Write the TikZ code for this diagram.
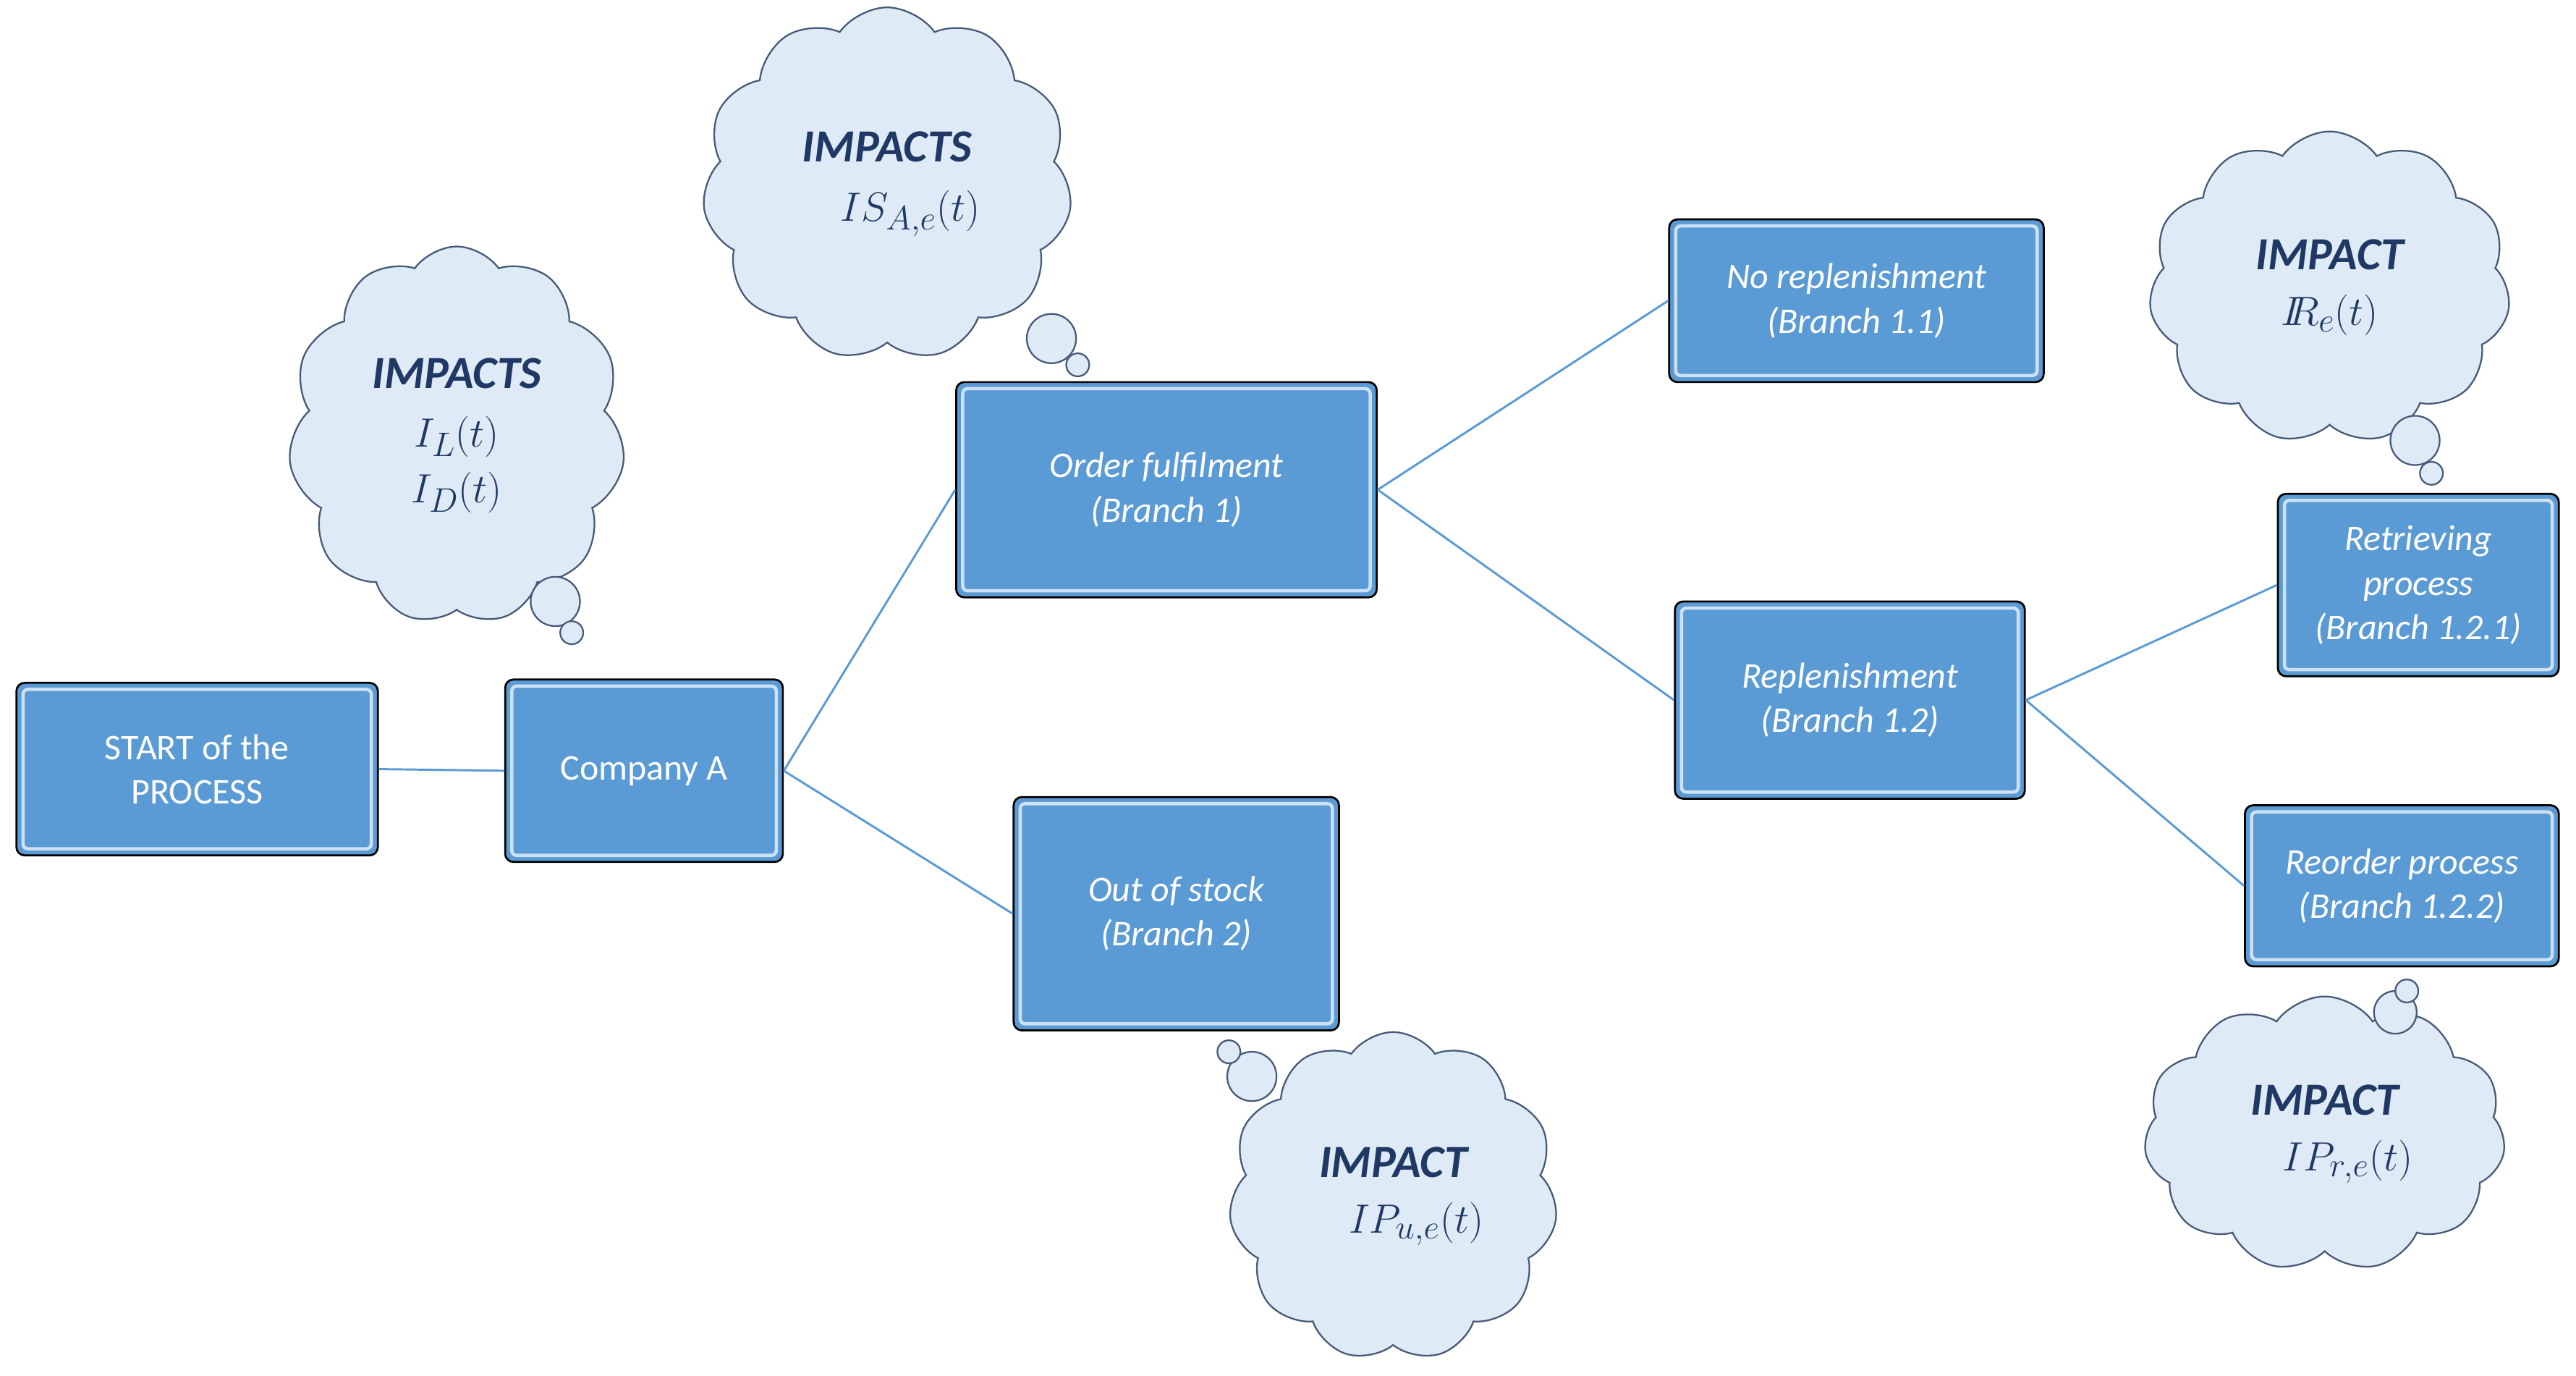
\documentclass[tikz,border=0pt]{standalone}
\usepackage{fontspec}
\setmainfont{Carlito}
\usetikzlibrary{shapes.symbols}
\definecolor{boxblue}{RGB}{91,155,213}
\definecolor{cloudfill}{RGB}{222,234,246}
\definecolor{clouddraw}{RGB}{70,90,120}
\definecolor{txtblue}{RGB}{31,56,100}
\definecolor{linec}{RGB}{91,155,213}
\begin{document}
\begin{tikzpicture}[x=1pt,y=-1pt,
 box/.style={draw=black,line width=1.2pt,fill=boxblue,rounded corners=5pt,text=white,font=\fontsize{22}{27}\selectfont,align=center,inner sep=0pt,
   path picture={\draw[white!70!boxblue,line width=2pt,rounded corners=3pt] ([shift={(4pt,4pt)}]path picture bounding box.south west) rectangle ([shift={(-4pt,-4pt)}]path picture bounding box.north east);}},
 it/.style={font=\fontsize{22}{27}\selectfont\itshape},
 cl/.style={cloud,cloud puffs=11,cloud puff arc=110,draw=clouddraw,line width=1pt,fill=cloudfill,text=txtblue,align=center,inner sep=0pt,font=\fontsize{28}{34}\selectfont\bfseries\itshape},
 bub/.style={circle,draw=clouddraw,line width=1pt,fill=cloudfill,inner sep=0pt},
 ln/.style={draw=linec,line width=1.3pt}]
\useasboundingbox (0,0) rectangle (1568,837);
\node[box,minimum width=220,minimum height=105] (start) at (120,468) {START of the\\PROCESS};
\node[box,minimum width=169,minimum height=111] (comp) at (392,469) {Company A};
\node[box,it,minimum width=256,minimum height=131] (ord) at (710,298) {\itshape Order fulfilment\\\itshape (Branch 1)};
\node[box,minimum width=198,minimum height=142] (out) at (716,556) {\itshape Out of stock\\\itshape (Branch 2)};
\node[box,minimum width=228,minimum height=99] (norep) at (1130,183) {\itshape No replenishment\\\itshape (Branch 1.1)};
\node[box,minimum width=213,minimum height=120] (rep) at (1126,426) {\itshape Replenishment\\\itshape (Branch 1.2)};
\node[box,minimum width=171,minimum height=111] (ret) at (1472,356) {\itshape Retrieving\\\itshape process\\\itshape (Branch 1.2.1)};
\node[box,minimum width=191,minimum height=98] (reo) at (1462,539) {\itshape Reorder process\\\itshape (Branch 1.2.2)};
\draw[ln] (start.east) -- (comp.west);
\draw[ln] (comp.east) -- (ord.west);
\draw[ln] (comp.east) -- (out.west);
\draw[ln] (ord.east) -- (norep.west);
\draw[ln] (ord.east) -- (rep.west);
\draw[ln] (rep.east) -- (ret.west);
\draw[ln] (rep.east) -- (reo.west);
% clouds
\node[cl,minimum width=205,minimum height=230] (c1) at (278,265) {IMPACTS\\[2pt] \mdseries\upshape$I_L(t)$\\ \mdseries\upshape$I_D(t)$};
\node[bub,minimum size=30] (b1a) at (338,366) {};
\node[bub,minimum size=14] (b1b) at (348,385) {};
\node[cl,minimum width=225,minimum height=215] (c2) at (540,112) {IMPACTS\\[2pt] \mdseries\upshape$\quad IS_{A,e}(t)$};
\node[bub,minimum size=30] (b2a) at (640,206) {};
\node[bub,minimum size=14] (b2b) at (656,222) {};
\node[cl,minimum width=220,minimum height=190] (c3) at (1418,175) {IMPACT\\ $I\!\!R_e$\mdseries\upshape$(t)$};
\node[bub,minimum size=30] (b3a) at (1470,268) {};
\node[bub,minimum size=14] (b3b) at (1480,288) {};
\node[cl,minimum width=200,minimum height=200] (c4) at (848,728) {IMPACT\\ \mdseries\upshape$\quad IP_{u,e}(t)$};
\node[bub,minimum size=30] (b4a) at (762,655) {};
\node[bub,minimum size=14] (b4b) at (748,640) {};
\node[cl,minimum width=220,minimum height=150] (c5) at (1415,690) {IMPACT\\ \mdseries\upshape$\quad IP_{r,e}(t)$};
\node[bub,minimum size=26] (b5a) at (1458,616) {};
\node[bub,minimum size=14] (b5b) at (1465,603) {};
\end{tikzpicture}
\end{document}
